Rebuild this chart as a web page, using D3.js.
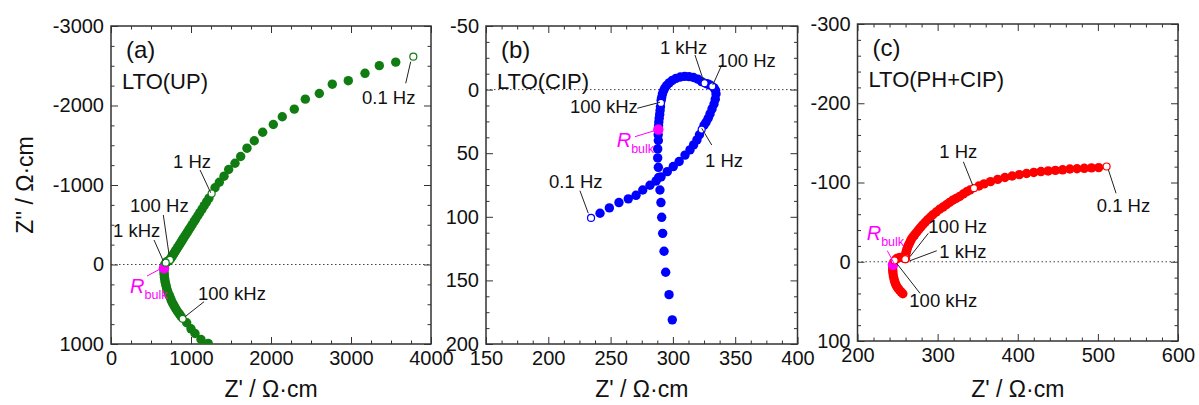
<!DOCTYPE html>
<html>
<head>
<meta charset="utf-8">
<script src="https://cdn.jsdelivr.net/npm/d3@7"></script>
<style>
  body { margin: 0; background: #fff; }
  svg { display: block; }
  text { font-family: 'Liberation Sans', Arial, sans-serif; fill: #111; }
</style>
</head>
<body>
<div id="chart"></div>
<script>
// == DATA ==
// Each series is [Z', Z''] in Ω·cm, ordered from low to high frequency.

// (a) LTO(UP)
const zA = [
  [3559, -2545], [3354, -2501], [3175, -2405], [2966, -2312], [2766, -2268], [2604, -2151],
  [2429, -2080], [2291, -1954], [2141, -1858], [2029, -1761], [1896, -1664], [1791, -1556],
  [1700, -1463], [1621, -1358], [1550, -1274], [1471, -1195], [1413, -1111], [1354, -1035],
  [1300, -965],
  [1225, -835], [1195, -788], [1165, -740], [1138, -697], [1110, -653], [1085, -613],
  [1060, -574], [1038, -539], [1015, -502], [995, -471], [975, -439], [955, -407],
  [937, -379], [920, -352], [903, -325], [888, -301], [873, -277], [858, -253],
  [845, -233], [832, -212], [818, -190], [806, -171], [795, -153], [783, -134],
  [772, -117], [762, -101], [752, -85], [745, -72],
  [725, -50], [712, -42], [700, -35], [692, -29],
  [676, -5], [668, 14], [664, 32],
  [662, 70], [663, 100], [665, 130], [668, 160], [672, 190], [677, 220], [684, 250],
  [692, 282], [700, 314], [710, 345], [722, 375], [735, 405], [748, 435], [758, 462],
  [772, 490], [787, 517], [803, 545], [820, 572], [838, 600], [856, 625], [875, 652],
  [946, 733], [1000, 809], [1050, 868], [1125, 943], [1216, 994]
];
const openA = [[3779, -2614], [1258, -893], [737, -57], [684, -23], [896, 683]];
const rbulkA = [662, 48];

// (b) LTO(CIP)
const zB = [
  [241.5, 97.2], [249, 93], [256.7, 88.8], [264.2, 85.9], [270.4, 83.1], [275.8, 78.9],
  [281.6, 75.2], [286.5, 71.8], [290.5, 68.6], [295.5, 64.5], [300.3, 60.5], [305, 56.5],
  [309.7, 51.5], [313.7, 47.4], [316.6, 43.5], [319.3, 39.5], [321.3, 35.5],
  [325, 28], [326.6, 25.7], [328.3, 22.5], [329.8, 19.1], [331.4, 15.2], [333, 11.3],
  [334, 7.5], [334.6, 3.4], [334.2, 0.5], [333, -1.3],
  [330, -3.5], [328.5, -4.2], [327, -4.6],
  [323, -6.3], [320, -8.2], [316.5, -9.5], [313, -10.2], [309.5, -10.4], [306, -9.9],
  [302.5, -8.8], [299.5, -7.2], [297, -5.3], [295, -3.2], [293.5, -1.2], [292.5, 1],
  [291.6, 3.4], [291, 6], [290.6, 8.3],
  [290, 13.5], [289.7, 16.5], [289.4, 19.5], [289, 22.5], [288.7, 25.5], [288.5, 28.5],
  [288.2, 35.5], [288.3, 40], [287.8, 46.6], [287.8, 53.7], [288.3, 61.1], [288.6, 69],
  [289.6, 78.9], [290.4, 88.8], [291, 100.4], [291.8, 113], [292.9, 127.1], [294.2, 143.6],
  [296.9, 161.2], [299.5, 181]
];
const openB = [[234.3, 100.9], [323.1, 31.4], [331.6, -2.6], [325.4, -5.0], [290.4, 10.5]];
const rbulkB = [288.3, 31.4];

// (c) LTO(PH+CIP)
const zC = [
  [501, -118.8], [492, -118.5], [483, -117.9], [474, -117.4], [465, -117], [456, -116],
  [447, -115.3], [438, -114.6], [429, -113.8], [420, -112.7], [411, -111.4], [402, -110],
  [393, -108.2], [384, -106.3], [375, -103.9], [366, -101.1], [358, -98.3], [351.5, -95.6],
  [340.5, -90.5], [336.3, -88.3], [332, -85.5], [327.5, -82.3], [323, -79.8], [318.8, -77.6],
  [314.8, -74.8], [310.9, -71.9], [306.7, -69], [302.5, -66.2], [298.3, -62.8], [294.1, -59.3],
  [290.8, -56.2], [287.5, -53], [284.5, -49.8], [281.6, -46.7], [278.9, -43.5], [276.3, -40.4],
  [273.8, -37.2], [271.3, -34], [269.4, -31.5], [267.5, -29], [266.2, -26.3], [265, -23.6],
  [263.7, -21], [262.5, -18.3], [261.7, -15.6], [260.9, -13], [260.4, -10.6], [260, -8.2],
  [259.8, -6], [259.9, -4],
  [256.5, -5.2], [253, -5.4], [250, -4.6], [248, -3.2], [245, 1],
  [243.9, 7.5], [244, 11], [244.2, 14.3], [244.8, 18], [245.5, 21.5], [246.3, 24.8],
  [247.5, 28], [248.8, 30.8], [250.4, 33.2], [252.3, 35.6], [254.3, 38], [256.6, 40.4]
];
const openC = [[510.9, -120.2], [345.4, -92.9], [260.2, -5], [259.6, -3.2], [246.3, -1.6]];
const rbulkC = [244.2, 3.8];

// Frequency labels: [text, labelX, labelY (baseline), leaderX1, leaderY1, leaderX2, leaderY2] in data units
const labelsA = [
  ['0.1 Hz', 3137, -2019, 3684, -2279, 3746, -2551],
  ['1 Hz', 775, -1214, 1113, -1189, 1246, -903],
  ['100 Hz', 238, -660, 654, -623, 725, -128],
  ['1 kHz', 25, -346, 538, -308, 654, -44],
  ['100 kHz', 1088, 447, 1163, 468, 925, 657]
];
const labelsB = [
  ['1 kHz', 289.6, -28, 317.7, -27.2, 324.4, -7.5],
  ['100 Hz', 335.6, -17.8, 339.2, -19.3, 332, -3.6],
  ['100 kHz', 217.4, 18.4, 271.4, 14.7, 289.6, 10],
  ['1 Hz', 325.8, 60.8, 331.2, 43.6, 323.1, 30.4],
  ['0.1 Hz', 200.6, 77.4, 225.4, 79.5, 232.1, 97.2]
];
const labelsC = [
  ['1 Hz', 302.1, -130.9, 332.1, -126.2, 343.8, -96.5],
  ['0.1 Hz', 498.6, -62.8, 522.7, -86.4, 513.2, -115.8],
  ['100 Hz', 288.4, -36.3, 288.4, -35.9, 265.5, -6.4],
  ['1 kHz', 302.1, -4.7, 298.9, -13.9, 265.5, -1.3],
  ['100 kHz', 264.7, 57.1, 278, 39.8, 248.9, 2]
];
// R_bulk label: [labelX, labelY, leaderX1, leaderY1, leaderX2, leaderY2]
const rbulkLabelA = [238, 358, 450, 145, 638, 44];
const rbulkLabelB = [254.9, 45.1, 269.6, 37, 287, 31.8];
const rbulkLabelC = [211.5, -27.4, 237.2, -13.9, 246.8, 4.1];

// Axis ticks
const xTicksA = [0, 1000, 2000, 3000, 4000];
const yTicksA = [-3000, -2000, -1000, 0, 1000];
const xTicksB = [150, 200, 250, 300, 350, 400];
const yTicksB = [-50, 0, 50, 100, 150, 200];
const xTicksC = [200, 300, 400, 500, 600];
const yTicksC = [-300, -200, -100, 0, 100];

// == CONFIG ==
const W = 1199, H = 405;
const COLOR_MAGENTA = '#ff00ff';
const COLOR_FRAME = '#333';
const R_FILL = 4.7;
const R_OPEN = 3.5;
const R_BULK = 5.2;

const panels = [
  { id: 'a', tag: '(a)', name: 'LTO(UP)', color: '#117c11', left: 111, right: 431, top: 26, bottom: 344,
    xTicks: xTicksA, yTicks: yTicksA, minor: 250, data: zA, open: openA, rbulk: rbulkA,
    labels: labelsA, rbulkLabel: rbulkLabelA, yTitle: true },
  { id: 'b', tag: '(b)', name: 'LTO(CIP)', color: '#0000ff', left: 486, right: 797.5, top: 26, bottom: 344,
    xTicks: xTicksB, yTicks: yTicksB, minor: 12.5, data: zB, open: openB, rbulk: rbulkB,
    labels: labelsB, rbulkLabel: rbulkLabelB, yTitle: false },
  { id: 'c', tag: '(c)', name: 'LTO(PH+CIP)', color: '#ff0000', left: 857.5, right: 1178, top: 24, bottom: 341,
    xTicks: xTicksC, yTicks: yTicksC, minor: 20, data: zC, open: openC, rbulk: rbulkC,
    labels: labelsC, rbulkLabel: rbulkLabelC, yTitle: false }
];

// == SETUP ==
const svg = d3.select('#chart').append('svg')
  .attr('width', W)
  .attr('height', H);

function minorTicks(ticks, step) {
  const lo = d3.min(ticks), hi = d3.max(ticks);
  const out = [];
  for (let v = lo; v <= hi + 1e-9; v += step) out.push(+v.toFixed(4));
  return out.filter(v => !ticks.includes(v));
}

function drawPanel(p) {
  const x = d3.scaleLinear().domain(d3.extent(p.xTicks)).range([p.left, p.right]);
  const y = d3.scaleLinear().domain(d3.extent(p.yTicks)).range([p.top, p.bottom]);
  const g = svg.append('g').attr('class', 'panel-' + p.id);

  svg.append('clipPath').attr('id', 'clip-' + p.id)
    .append('rect')
    .attr('x', p.left).attr('y', p.top)
    .attr('width', p.right - p.left).attr('height', p.bottom - p.top);

  // zero line
  g.append('line')
    .attr('x1', p.left).attr('x2', p.right)
    .attr('y1', y(0)).attr('y2', y(0))
    .attr('stroke', '#444')
    .attr('stroke-width', 1)
    .attr('stroke-dasharray', '1.5,2.5');

  // ticks (inward on all four sides)
  const xMinor = minorTicks(p.xTicks, p.minor);
  const yMinor = minorTicks(p.yTicks, p.minor);
  const axes = [
    [d3.axisBottom(x), `translate(0,${p.bottom})`, p.xTicks, xMinor, true],
    [d3.axisTop(x), `translate(0,${p.top})`, p.xTicks, xMinor, false],
    [d3.axisLeft(y), `translate(${p.left},0)`, p.yTicks, yMinor, true],
    [d3.axisRight(y), `translate(${p.right},0)`, p.yTicks, yMinor, false]
  ];
  axes.forEach(([ax, tr, major, minor, withLabels]) => {
    g.append('g').attr('transform', tr)
      .call(ax.tickValues(minor).tickSize(-3.5).tickFormat(''))
      .call(s => s.select('.domain').remove())
      .call(s => s.selectAll('line').attr('stroke', COLOR_FRAME).attr('stroke-width', 1));
    const a = g.append('g').attr('transform', tr)
      .call(ax.tickValues(major).tickSize(-7).tickPadding(7)
        .tickFormat(withLabels ? d3.format('d') : ''))
      .call(s => s.select('.domain').remove())
      .call(s => s.selectAll('line').attr('stroke', COLOR_FRAME).attr('stroke-width', 1));
    a.selectAll('text')
      .attr('font-size', 20)
      .attr('font-family', "'Liberation Sans', Arial, sans-serif")
      .attr('fill', '#111')
      .text(d => withLabels ? String(d) : '');
  });

  // frame
  g.append('rect')
    .attr('x', p.left).attr('y', p.top)
    .attr('width', p.right - p.left).attr('height', p.bottom - p.top)
    .attr('fill', 'none')
    .attr('stroke', COLOR_FRAME)
    .attr('stroke-width', 1.5);

  // points
  const gp = g.append('g').attr('clip-path', `url(#clip-${p.id})`);
  gp.selectAll('circle.fill').data(p.data).enter().append('circle')
    .attr('class', 'fill')
    .attr('cx', d => x(d[0])).attr('cy', d => y(d[1]))
    .attr('r', R_FILL)
    .attr('fill', p.color);

  gp.append('circle')
    .attr('cx', x(p.rbulk[0])).attr('cy', y(p.rbulk[1]))
    .attr('r', R_BULK)
    .attr('fill', COLOR_MAGENTA);

  gp.selectAll('circle.open').data(p.open).enter().append('circle')
    .attr('class', 'open')
    .attr('cx', d => x(d[0])).attr('cy', d => y(d[1]))
    .attr('r', R_OPEN)
    .attr('fill', '#fff')
    .attr('stroke', p.color)
    .attr('stroke-width', 1.2);

  // frequency labels with leaders
  p.labels.forEach(l => {
    g.append('line')
      .attr('x1', x(l[3])).attr('y1', y(l[4]))
      .attr('x2', x(l[5])).attr('y2', y(l[6]))
      .attr('stroke', '#222').attr('stroke-width', 1);
    g.append('text')
      .attr('x', x(l[1])).attr('y', y(l[2]))
      .attr('font-size', 18.5)
      .text(l[0]);
  });

  // R_bulk label
  const rl = p.rbulkLabel;
  g.append('line')
    .attr('x1', x(rl[2])).attr('y1', y(rl[3]))
    .attr('x2', x(rl[4])).attr('y2', y(rl[5]))
    .attr('stroke', COLOR_MAGENTA).attr('stroke-width', 1);
  const rt = g.append('text')
    .attr('x', x(rl[0])).attr('y', y(rl[1]))
    .style('fill', COLOR_MAGENTA);
  rt.append('tspan').attr('font-size', 20).attr('font-style', 'italic').text('R');
  rt.append('tspan').attr('font-size', 12.5).attr('dy', 6).text('bulk');

  // panel tag & sample name
  g.append('text')
    .attr('x', p.left + 15).attr('y', p.top + 32)
    .attr('font-size', 24)
    .text(p.tag);
  g.append('text')
    .attr('x', p.left + 11).attr('y', p.top + 63)
    .attr('font-size', 22)
    .text(p.name);

  // axis titles
  g.append('text')
    .attr('x', (p.left + p.right) / 2).attr('y', 397)
    .attr('text-anchor', 'middle')
    .attr('font-size', 23)
    .text("Z' / Ω·cm");
  if (p.yTitle) {
    g.append('text')
      .attr('transform', `translate(33,${(p.top + p.bottom) / 2}) rotate(-90)`)
      .attr('text-anchor', 'middle')
      .attr('font-size', 23)
      .text("Z'' / Ω·cm");
  }
}

panels.forEach(drawPanel);
</script>
</body>
</html>
